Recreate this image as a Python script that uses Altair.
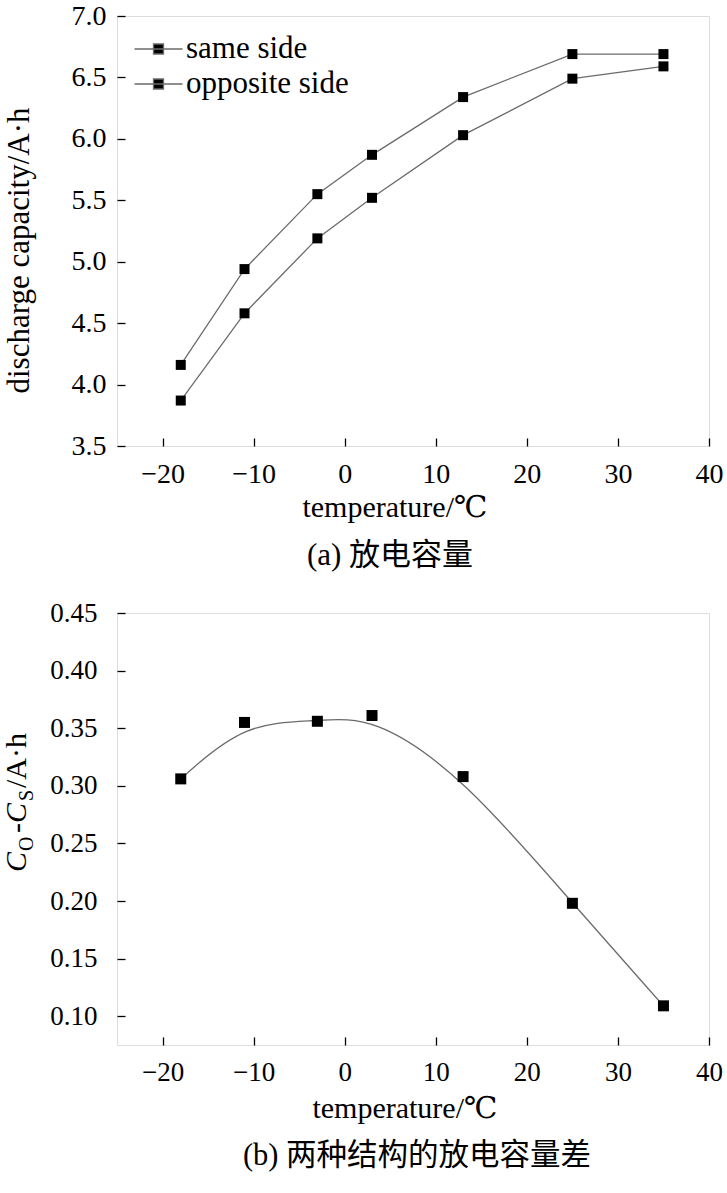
import altair as alt
import pandas as pd

# ---------------- data ----------------
temps = [-18, -11, -3, 3, 13, 25, 35]
same_side = [3.87, 4.58, 5.19, 5.52, 6.03, 6.49, 6.59]
opposite_side = [4.16, 4.94, 5.55, 5.87, 6.34, 6.69, 6.69]
capacity_diff = [0.306, 0.355, 0.356, 0.361, 0.308, 0.198, 0.109]
series_names = ["same side", "opposite side"]

x_ticks = [-20, -10, 0, 10, 20, 30, 40]
ya_ticks = [3.5, 4.0, 4.5, 5.0, 5.5, 6.0, 6.5, 7.0]
yb_ticks = [0.10, 0.15, 0.20, 0.25, 0.30, 0.35, 0.40, 0.45]

x_title = "temperature/℃"
ya_title = "discharge capacity/A·h"
caption_a = "(a) 放电容量"
caption_b = "(b) 两种结构的放电容量差"

SERIF = "'Liberation Serif', 'Times New Roman', 'DejaVu Serif', serif"
CAP = "'Liberation Serif', 'Times New Roman', 'Noto Sans CJK SC', serif"
LINE = "#6e6a6a"
W, HA, HB = 592, 430, 432

dfa = pd.DataFrame({
    "T": temps + temps,
    "C": same_side + opposite_side,
    "series": [series_names[0]] * len(temps) + [series_names[1]] * len(temps),
})
dfb = pd.DataFrame({"T": temps, "D": capacity_diff})


def axis_style(label_size, **kw):
    return alt.Axis(
        domain=False, grid=False, ticks=True, tickColor="black", tickWidth=1.3,
        tickSize=8, offset=-8, labelFont=SERIF, labelFontSize=label_size,
        labelColor="black", labelFlush=False, titleFont=SERIF, titleFontSize=31,
        titleFontWeight="normal", titleColor="black", **kw)


def text_layer(txt, px, py, size, style="normal", angle=0, align="center", font=SERIF):
    return alt.Chart(alt.Data(values=[{}])).mark_text(
        text=txt, fontStyle=style, fontSize=size, font=font, color="black", angle=angle,
        align=align, baseline="alphabetic").encode(x=alt.value(px), y=alt.value(py))


# ---------------- panel (a) ----------------
xa = alt.X("T:Q", scale=alt.Scale(domain=[-25, 40], nice=False, zero=False),
           axis=axis_style(28, values=x_ticks, title=None, labelPadding=14))
ya = alt.Y("C:Q", scale=alt.Scale(domain=[3.5, 7.0], nice=False, zero=False),
           axis=axis_style(28, values=ya_ticks, format=".1f", title=ya_title,
                           labelPadding=11, titleX=-97, titleY=234, titleAngle=270,
                           titleAlign="center", titleBaseline="alphabetic"))

lines_a = alt.Chart(dfa).mark_line(color=LINE, strokeWidth=1.3).encode(
    x=xa, y=ya, detail="series:N")
points_a = alt.Chart(dfa).mark_point(shape="square", filled=True, size=100, opacity=1).encode(
    x=xa, y=ya,
    fill=alt.Fill("series:N", scale=alt.Scale(domain=series_names, range=["black", "black"]),
                  legend=alt.Legend(
                      title=None, orient="none", legendX=26, legendY=17.5,
                      symbolType="M-2.4,0H2.4M-0.5,-0.5H0.5V0.5H-0.5Z",
                      symbolSize=400, symbolStrokeColor=LINE, symbolStrokeWidth=1.3,
                      symbolFillColor="black",
                      labelFont=SERIF, labelFontSize=31, labelColor="black",
                      labelLimit=500, labelOffset=12, rowPadding=3, padding=0)),
)

panel_a = alt.layer(
    lines_a, points_a,
    text_layer(x_title, 278, 501, 30),
    text_layer(caption_a, 273, 549, 31, font=CAP),
).properties(width=W, height=HA)

# ---------------- panel (b) ----------------
xb = alt.X("T:Q", scale=alt.Scale(domain=[-25, 40], nice=False, zero=False),
           axis=axis_style(27, values=x_ticks, title=None, labelPadding=14))
yb = alt.Y("D:Q", scale=alt.Scale(domain=[0.075, 0.45], nice=False, zero=False),
           axis=axis_style(27, values=yb_ticks, format=".2f", title=None, labelPadding=20))

curve_b = alt.Chart(dfb).mark_line(color=LINE, strokeWidth=1.3, interpolate="basis").encode(
    x=xb, y=yb)
points_b = alt.Chart(dfb).mark_point(shape="square", filled=True, size=121, color="black",
                                     opacity=1).encode(x=xb, y=yb)

title_pieces = [
    ("C", "italic", 30, 259, -91),
    ("O", "normal", 20, 238, -84),
    ("-", "normal", 30, 220, -91),
    ("C", "italic", 30, 210, -91),
    ("S", "normal", 20, 188, -84),
    ("/A·h", "normal", 30, 175, -91),
]
title_layers = [text_layer(t, px, py, fs, style=st, angle=270, align="left")
                for (t, st, fs, py, px) in title_pieces]

panel_b = alt.layer(
    curve_b, points_b, *title_layers,
    text_layer(x_title, 288, 505, 30),
    text_layer(caption_b, 300, 552, 30.5, font=CAP),
).properties(width=W, height=HB)

chart = alt.vconcat(panel_a, panel_b, spacing=167, bounds="flush").properties(
    padding={"left": 1, "top": 1, "right": 0, "bottom": 0}
).configure_view(stroke="black", strokeWidth=1.3).configure(background="white")

chart.save("out.html", embed_options={"renderer": "svg", "actions": False})
